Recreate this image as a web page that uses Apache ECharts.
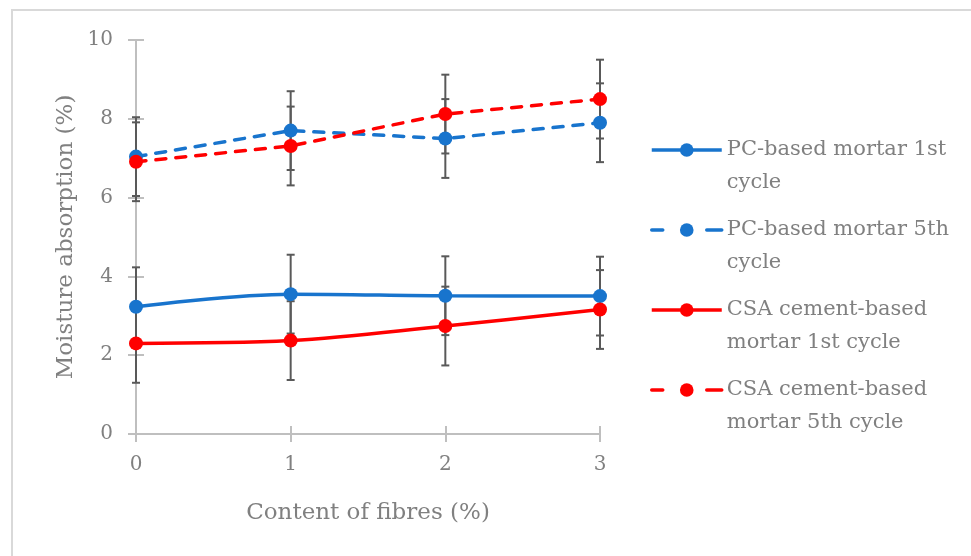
<!DOCTYPE html>
<html>
<head>
<meta charset="utf-8">
<script src="https://cdn.jsdelivr.net/npm/echarts@6/dist/echarts.min.js"></script>
<style>
html,body{margin:0;padding:0;background:#fff;}
#chart{width:971px;height:556px;}
</style>
</head>
<body>
<div id="chart"></div>
<script>
const fibres = [0, 1, 2, 3];
const pc1st = [3.23, 3.55, 3.51, 3.50];
const pc5th = [7.04, 7.70, 7.50, 7.90];
const csa1st = [2.30, 2.37, 2.74, 3.16];
const csa5th = [6.91, 7.31, 8.12, 8.50];
const errPc1st = [1, 1, 1, 1];
const errPc5th = [1, 1, 1, 1];
const errCsa1st = [1, 1, 1, 1];
const errCsa5th = [1, 1, 1, 1];
const yTicks = [0, 2, 4, 6, 8, 10];
const seriesNames = ['PC-based mortar 1st cycle', 'PC-based mortar 5th cycle', 'CSA cement-based mortar 1st cycle', 'CSA cement-based mortar 5th cycle'];
const legendLabels = ['PC-based mortar 1st\ncycle', 'PC-based mortar 5th\ncycle', 'CSA cement-based\nmortar 1st cycle', 'CSA cement-based\nmortar 5th cycle'];
const dashedFlags = [false, true, false, true];

const BLUE = '#1874cd', RED = '#ff0000', GREY = '#808080', FONT = 'DejaVu Serif';

function pts(vals) { return fibres.map((x, i) => [x, vals[i]]); }
function errData(vals, errs) { return fibres.map((x, i) => [x, vals[i] - errs[i], vals[i] + errs[i]]); }

function errSeries(vals, errs) {
  return {
    type: 'custom', z: 1, silent: true,
    data: errData(vals, errs),
    renderItem: function (params, api) {
      const lo = api.coord([api.value(0), api.value(1)]);
      const hi = api.coord([api.value(0), api.value(2)]);
      const w = 4;
      const st = { stroke: '#595959', lineWidth: 2 };
      return { type: 'group', children: [
        { type: 'line', shape: { x1: lo[0], y1: lo[1], x2: hi[0], y2: hi[1] }, style: st },
        { type: 'line', shape: { x1: lo[0] - w, y1: lo[1], x2: lo[0] + w, y2: lo[1] }, style: st },
        { type: 'line', shape: { x1: hi[0] - w, y1: hi[1], x2: hi[0] + w, y2: hi[1] }, style: st }
      ]};
    }
  };
}

function lineSeries(name, vals, color, dashed, smooth) {
  return {
    name: name, type: 'line', z: 3, data: pts(vals),
    smooth: smooth, symbol: 'circle', symbolSize: 14,
    itemStyle: { color: color },
    lineStyle: { color: color, width: 3.5, type: dashed ? [10, 10] : 'solid', cap: dashed ? 'round' : 'butt' }
  };
}

const legendCenters = [150, 230, 310, 390];
const LH = 33;
const legends = seriesNames.map((n, i) => ({
  data: [n], orient: 'vertical', left: 650, top: legendCenters[i] - 1.5 * LH,
  padding: 0, itemWidth: 70, itemHeight: 17, selectedMode: false,
  lineStyle: dashedFlags[i] ? { width: 3.5, type: [11, 44, 16, 10], cap: 'round' } : { width: 3.5 },
  formatter: () => '\n' + legendLabels[i],
  textStyle: { color: GREY, fontFamily: FONT, fontSize: 21, lineHeight: LH }
}));

const chart = echarts.init(document.getElementById('chart'));
chart.setOption({
  backgroundColor: '#fff',
  animation: false,
  graphic: [{ type: 'rect', shape: { x: 12, y: 10, width: 990, height: 600 }, style: { fill: 'none', stroke: '#d9d9d9', lineWidth: 2 }, silent: true }],
  grid: { left: 136, right: 371, top: 40, bottom: 122 },
  legend: legends,
  xAxis: [{
    type: 'value', min: 0, max: 3, interval: 1,
    name: 'Content of fibres (%)', nameLocation: 'middle', nameGap: 68,
    nameTextStyle: { color: GREY, fontFamily: FONT, fontSize: 23 },
    axisLine: { lineStyle: { color: '#bfbfbf', width: 2 } },
    axisTick: { show: true, length: 8, lineStyle: { color: '#bfbfbf', width: 2 } },
    axisLabel: { color: GREY, fontFamily: FONT, fontSize: 20, margin: 21 },
    splitLine: { show: false }
  }, {
    type: 'value', min: 0, max: 3, interval: 1, position: 'bottom',
    axisLine: { show: false }, axisLabel: { show: false }, splitLine: { show: false },
    axisTick: { show: true, inside: true, length: 8, lineStyle: { color: '#bfbfbf', width: 2 } }
  }],
  yAxis: [{
    type: 'value', min: 0, max: 10, interval: 2,
    name: 'Moisture absorption (%)', nameLocation: 'middle', nameGap: 58,
    nameTextStyle: { color: GREY, fontFamily: FONT, fontSize: 23 },
    axisLine: { show: true, lineStyle: { color: '#bfbfbf', width: 2 } },
    axisTick: { show: true, length: 8, lineStyle: { color: '#bfbfbf', width: 2 } },
    axisLabel: { color: GREY, fontFamily: FONT, fontSize: 20, margin: 23, formatter: v => yTicks.includes(v) ? String(v) : '' },
    splitLine: { show: false }
  }, {
    type: 'value', min: 0, max: 10, interval: 2, position: 'left',
    axisLine: { show: false }, axisLabel: { show: false }, splitLine: { show: false },
    axisTick: { show: true, inside: true, length: 8, lineStyle: { color: '#bfbfbf', width: 2 } }
  }],
  series: [
    errSeries(pc1st, errPc1st), errSeries(pc5th, errPc5th),
    errSeries(csa1st, errCsa1st), errSeries(csa5th, errCsa5th),
    lineSeries(seriesNames[0], pc1st, BLUE, false, 0.35),
    lineSeries(seriesNames[1], pc5th, BLUE, true, false),
    lineSeries(seriesNames[2], csa1st, RED, false, 0.35),
    lineSeries(seriesNames[3], csa5th, RED, true, false)
  ]
});
</script>
</body>
</html>
